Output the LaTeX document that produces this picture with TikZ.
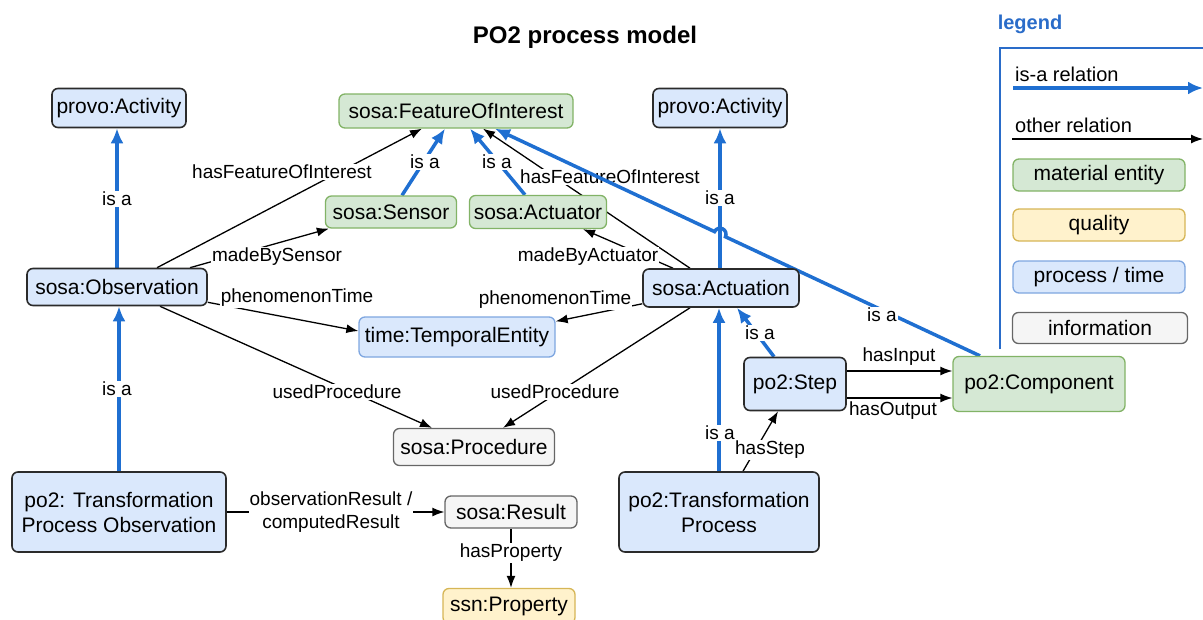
\documentclass[tikz,border=0pt]{standalone}
\usepackage{fontspec}
\setmainfont{Liberation Sans}
\usetikzlibrary{arrows.meta,backgrounds}
\definecolor{procfill}{HTML}{DAE8FC}
\definecolor{procline}{HTML}{2B2B2B}
\definecolor{timeline}{HTML}{7EA6E0}
\definecolor{matfill}{HTML}{D5E8D4}
\definecolor{matline}{HTML}{82B366}
\definecolor{qualfill}{HTML}{FFF2CC}
\definecolor{qualline}{HTML}{D6B656}
\definecolor{infofill}{HTML}{F5F5F5}
\definecolor{infoline}{HTML}{666666}
\definecolor{isablue}{HTML}{1F6FD1}
\definecolor{legblue}{HTML}{2A6CC9}
\tikzstyle{box} = [rounded corners=6pt, align=center, inner sep=2pt, font=\fontsize{21}{25}\selectfont]
\tikzstyle{proc} = [box, fill=procfill, draw=procline, line width=1.6pt]
\tikzstyle{tme} = [box, fill=procfill, draw=timeline, line width=1.3pt]
\tikzstyle{mat} = [box, fill=matfill, draw=matline, line width=1.3pt]
\tikzstyle{qual} = [box, fill=qualfill, draw=qualline, line width=1.3pt]
\tikzstyle{info} = [box, fill=infofill, draw=infoline, line width=1.3pt]
\tikzstyle{rel} = [line width=1.3pt, -{Latex[length=12pt,width=9pt]}]
\tikzstyle{isa} = [isablue, line width=3.5pt, -{Latex[length=15pt,width=13pt]}]
\tikzstyle{lbl} = [fill=white, inner sep=1pt, font=\fontsize{19}{23}\selectfont]
\tikzstyle{legtxt} = [anchor=west, inner sep=2pt, font=\fontsize{20}{24}\selectfont]

\begin{document}
\begin{tikzpicture}[x=1pt, y=1pt]
\useasboundingbox (0,0) rectangle (1203,-619);

\node[font=\bfseries\fontsize{24}{28}\selectfont] (title) at (585,-37) {PO2 process model};

% classes
\node[proc, minimum width=134pt, minimum height=39pt] (act1) at (119,-108) {provo:Activity};
\node[mat, minimum width=234pt, minimum height=34pt] (foi) at (456,-111) {sosa:FeatureOfInterest};
\node[proc, minimum width=134pt, minimum height=39pt] (act2) at (720,-108) {provo:Activity};
\node[mat, minimum width=131pt, minimum height=32pt] (sensor) at (391,-212) {sosa:Sensor};
\node[mat, minimum width=137pt, minimum height=33pt] (actuator) at (538,-212) {sosa:Actuator};
\node[proc, minimum width=180pt, minimum height=37pt] (obs) at (117,-287) {sosa:Observation};
\node[proc, minimum width=156pt, minimum height=38pt] (actu) at (721,-288) {sosa:Actuation};
\node[tme, minimum width=196pt, minimum height=40pt] (time) at (457,-337) {time:TemporalEntity};
\node[proc, minimum width=102pt, minimum height=53pt] (step) at (795,-384) {po2:Step};
\node[mat, minimum width=172pt, minimum height=55pt] (comp) at (1039,-384) {po2:Component};
\node[info, minimum width=161pt, minimum height=37pt] (procd) at (474,-447) {sosa:Procedure};
\node[proc, minimum width=214pt, minimum height=80pt] (tpo) at (119,-512) {po2: Transformation\\Process Observation};
\node[info, minimum width=132pt, minimum height=32pt] (result) at (511,-512) {sosa:Result};
\node[proc, minimum width=200pt, minimum height=80pt] (tp) at (719,-512) {po2:Transformation\\Process};
\node[qual, minimum width=132pt, minimum height=35pt] (prop) at (509,-606) {ssn:Property};

\begin{scope}[on background layer]
% other relations
\draw[rel] ([xshift=40]obs.north) -- ([xshift=-34]foi.south);
\node[lbl] (lfoi1) at (282,-172) {hasFeatureOfInterest};
\draw[rel] ([xshift=73]obs.north) -- ([xshift=4]sensor.south west);
\node[lbl] (lsens) at (277,-257) {madeBySensor};
\draw[rel] ([yshift=4]obs.south east) -- ([yshift=6]time.west);
\node[lbl] (ltime1) at (297,-298) {phenomenonTime};
\draw[rel] ([xshift=43]obs.south) -- ([xshift=-42]procd.north);
\node[lbl] (lproc1) at (337,-392) {usedProcedure};
\draw[rel] ([xshift=-31]actu.north) -- ([xshift=27]foi.south);
\node[lbl] (lfoi2) at (610,-177) {hasFeatureOfInterest};
\draw[rel] ([xshift=-48]actu.north) -- ([xshift=45]actuator.south);
\node[lbl] (lact) at (588,-257) {madeByActuator};
\draw[rel] ([yshift=4]actu.south west) -- ([yshift=-5]time.north east);
\node[lbl] (ltime2) at (555,-300) {phenomenonTime};
\draw[rel] ([xshift=-31]actu.south) -- ([xshift=29]procd.north);
\node[lbl] (lproc2) at (555,-392) {usedProcedure};
\draw[rel] ([yshift=13]step.east) -- ([yshift=13]comp.west);
\node[lbl] (lin) at (899,-357) {hasInput};
\draw[rel] ([yshift=-14]step.east) -- ([yshift=-14]comp.west);
\node[lbl] (lout) at (893,-411) {hasOutput};
\draw[rel] ([xshift=24]tp.north) -- ([xshift=-17]step.south);
\node[lbl] (lstep) at (770,-450) {hasStep};
\draw[rel] (tpo.east) -- (result.west);
\node[lbl, align=center] (lres) at (331,-512) {observationResult /\\computedResult};
\draw[rel] (result.south) -- (result.south |- prop.north);
\node[lbl] (lprop) at (511,-553) {hasProperty};

% is-a relations
\draw[isa] (obs.north) -- (obs.north |- act1.south);
\node[lbl] at (117,-199) {is a};
\draw[isa] ([xshift=11]sensor.north) -- ([xshift=-11]foi.south);
\node[lbl] at (425,-162) {is a};
\draw[isa] ([xshift=-13]actuator.north) -- ([xshift=14]foi.south);
\node[lbl] at (497,-162) {is a};
\draw[isa] (act2.south |- actu.north) -- (act2.south);
\node[lbl] at (720,-198) {is a};
\draw[isa] (tp.north) -- (tp.north |- actu.south);
\node[lbl] at (720,-433) {is a};
\draw[isa] ([xshift=-21]step.north) -- ([xshift=16]actu.south);
\node[lbl] at (760,-333) {is a};
\draw[isa] (tpo.north) -- (tpo.north |- obs.south);
\node[lbl] at (117,-389) {is a};
\draw[isa] ([xshift=-59]comp.north) -- (725.43,-236.76)
  arc[start angle=-25.3, end angle=154.7, radius=6] -- ([xshift=39]foi.south);
\node[lbl] at (882,-315) {is a};
\end{scope}

% legend
\node[font=\bfseries\fontsize{20}{24}\selectfont, text=legblue] (legend) at (1030,-24) {legend};
\draw[legblue, line width=1.5pt] (1000,-349) -- (1000,-48) -- (1203,-48);
\node[legtxt] (isatxt) at (1013,-74) {is-a relation};
\coordinate (isaA) at (1013,-88);
\coordinate (isaB) at (1203,-88);
\draw[isa] (isaA) -- (isaB);
\node[legtxt] (reltxt) at (1013,-125) {other relation};
\coordinate (relA) at (1012,-139);
\coordinate (relB) at (1203,-139);
\draw[rel] (relA) -- (relB);
\node[mat, minimum width=172pt, minimum height=32pt] (lmat) at (1099,-175) {material entity};
\node[qual, minimum width=172pt, minimum height=32pt] (lqual) at (1099,-225) {quality};
\node[tme, minimum width=172pt, minimum height=32pt] (lproc) at (1099,-277) {process / time};
\node[info, minimum width=175pt, minimum height=31pt] (linfo) at (1100,-328) {information};
\end{tikzpicture}
\end{document}
